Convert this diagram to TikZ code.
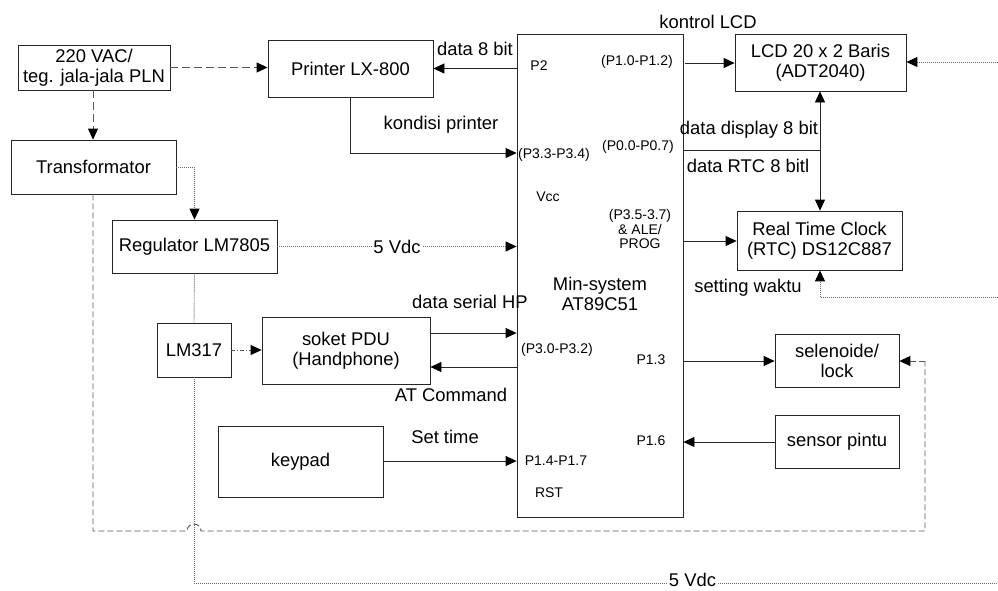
\documentclass[tikz,border=0pt]{standalone}
\usepackage{fontspec}
\setmainfont{Liberation Sans}
\usetikzlibrary{arrows.meta}
\tikzset{
  box/.style={draw=black!85, line width=0.8pt, inner sep=0pt, align=center, font=\fontsize{18.4}{20}\selectfont},
  lbl/.style={inner sep=0pt, font=\fontsize{18.4}{20}\selectfont},
  pin/.style={inner sep=0pt, font=\fontsize{14}{15}\selectfont, align=center},
  sline/.style={draw=black!85, line width=0.8pt},
  arr/.style={sline, -{Triangle[length=11pt,width=10pt,black]}},
  dotl/.style={draw=black!60, line width=0.9pt, dash pattern=on 1pt off 1pt},
  dashl/.style={draw=black!65, line width=0.9pt, dash pattern=on 8pt off 4pt},
  dashs/.style={draw=black!65, line width=0.9pt, dash pattern=on 6pt off 3pt},
  dashdot/.style={draw=black!65, line width=0.8pt, dash pattern=on 4pt off 2pt on 1pt off 2pt},
  tip/.style={-{Triangle[length=11pt,width=10pt,black]}},
}
\begin{document}
\begin{tikzpicture}[x=1pt,y=-1pt]
\useasboundingbox[fill=white] (0,0) rectangle (998,590);
% boxes
\node[box, minimum width=152, minimum height=45] (ac) at (94,67.5) {220 VAC/\\teg. jala-jala PLN};
\node[box, minimum width=165, minimum height=57] (printer) at (350.5,68.5) {Printer LX-800};
\node[box, minimum width=165, minimum height=54] (trafo) at (93.5,167) {Transformator};
\node[box, minimum width=165, minimum height=53] (reg) at (194.5,246.5) {Regulator LM7805};
\node[box, minimum width=74, minimum height=54] (lm) at (194,350) {LM317};
\node[box, minimum width=168, minimum height=67] (soket) at (346,350.5) {soket PDU\\(Handphone)};
\node[box, minimum width=165, minimum height=71] (keypad) at (300.5,461.5) {keypad};
\node[box, minimum width=166, minimum height=483] (mcu) at (600,275.5) {};
\node[box, minimum width=171, minimum height=57] (lcd) at (820.5,62.5) {LCD 20 x 2 Baris\\(ADT2040)};
\node[box, minimum width=165, minimum height=59] (rtc) at (819.5,240.5) {Real Time Clock\\(RTC) DS12C887};
\node[box, minimum width=124, minimum height=53] (sel) at (837,360.5) {selenoide/\\lock};
\node[box, minimum width=124, minimum height=53] (sensor) at (837,441.5) {sensor pintu};

% coordinates
\coordinate (kp) at (350,153);
\coordinate (jn) at (820,150);
\coordinate (lcdin) at (998,62);
\coordinate (swin) at (998,297);
\coordinate (sw) at (820,297);
\coordinate (vb) at (194,583);
\coordinate (ve) at (998,583);
\coordinate (tb) at (93,531);
\coordinate (hopa) at (187,531);
\coordinate (sc) at (925,531);
\coordinate (ss) at (925,361);

% AC lines
\draw[dashl, tip] (ac.east) -- (ac.east -| printer.west);
\draw[dashl, tip] (ac.south -| 93,0) -- (trafo.north -| 93,0);
% power dotted lines
\draw[dotl, tip] (trafo.east) -| (reg.north);
\draw[dotl, tip] (reg.east) -- node[lbl, fill=white, inner xsep=1pt] {5 Vdc} (reg.east -| mcu.west);
\draw[dotl] (reg.south) -- (lm.north);
\draw[dotl] (lm.south) -- (vb) -- node[pos=0.62, lbl, fill=white, inner xsep=1pt, yshift=3pt] {5 Vdc} (ve);
\draw[dashdot, tip] (lm.east) -- (lm.east -| soket.west);
\draw[dotl, tip] (lcdin) -- (lcdin -| lcd.east);
\draw[dotl, tip] (swin) -- (sw) -- (rtc.south -| sw);
% bottom dashed with hop
\draw[dashs] (trafo.south -| tb) -- (tb) -- (hopa) arc[start angle=180, end angle=0, radius=7pt] -- (sc) -- (ss);
\draw[dashs, tip] (ss) -- (ss -| sel.east);

% data lines
\draw[arr] (mcu.west |- printer.east) -- (printer.east);
\draw[sline] (printer.south -| kp) -- (kp);
\draw[arr] (kp) -- (kp -| mcu.west);
\draw[arr] (soket.east |- 0,333) -- (mcu.west |- 0,333);
\draw[arr] (mcu.west |- 0,367) -- (soket.east |- 0,367);
\draw[arr] (keypad.east |- 0,461) -- (mcu.west |- 0,461);
\draw[arr] (685,63) -- (lcd.west |- 0,63);
\draw[sline] (mcu.east |- jn) -- (jn);
\draw[arr] (jn) -- (lcd.south -| jn);
\draw[arr] (jn) -- (rtc.north -| jn);
\draw[arr] (mcu.east |- 0,241) -- (rtc.west |- 0,241);
\draw[arr] (mcu.east |- 0,361) -- (sel.west |- 0,361);
\draw[arr] (sensor.west |- 0,442) -- (mcu.east |- 0,442);

% labels
\node[lbl] (t1) at (708,22) {kontrol LCD};
\node[lbl] (t2) at (475,49) {data 8 bit};
\node[lbl] (t3) at (441,125) {kondisi printer};
\node[lbl] (t4) at (749,130) {data display 8 bit};
\node[lbl] (t5) at (748,166) {data RTC 8 bitl};
\node[lbl, align=center] (t6) at (600,294) {Min-system\\AT89C51};
\node[lbl] (t7) at (748,288) {setting waktu};
\node[lbl] (t8) at (470,302) {data serial HP};
\node[lbl] (t9) at (451,395) {AT Command};
\node[lbl] (t10) at (445,437) {Set time};
\node[pin] (p1) at (539,66) {P2};
\node[pin] (p2) at (637,62) {(P1.0-P1.2)};
\node[pin] (p3) at (554,155) {(P3.3-P3.4)};
\node[pin] (p4) at (638,147) {(P0.0-P0.7)};
\node[pin] (p5) at (548,197) {Vcc};
\node[pin, font=\fontsize{14}{14.5}\selectfont] (p6) at (640,229) {(P3.5-3.7)\\\& ALE/\\PROG};
\node[pin] (p7) at (557,350) {(P3.0-P3.2)};
\node[pin] (p8) at (651,360) {P1.3};
\node[pin] (p9) at (651,441) {P1.6};
\node[pin] (p10) at (556,461) {P1.4-P1.7};
\node[pin] (p11) at (549,493) {RST};
\end{tikzpicture}
\end{document}
